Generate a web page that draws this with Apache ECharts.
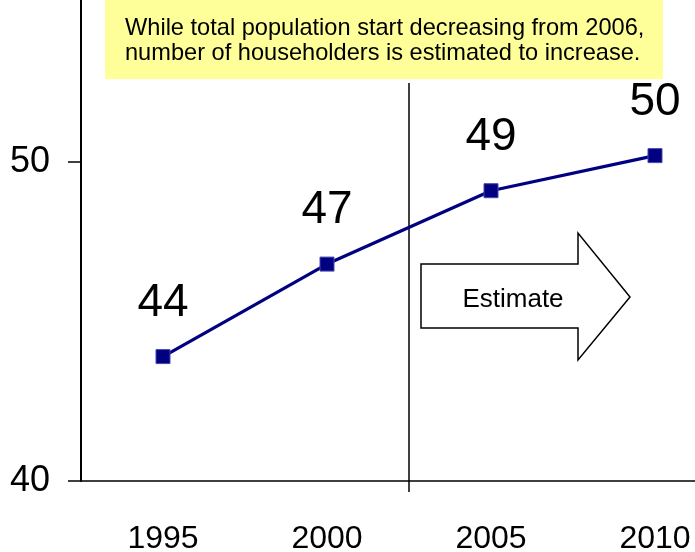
<!DOCTYPE html>
<html>
<head>
<meta charset="utf-8">
<title>Number of householders</title>
<script src="https://cdn.jsdelivr.net/npm/echarts@6/dist/echarts.min.js"></script>
<style>
  html, body { margin: 0; padding: 0; background: #ffffff; }
  #chart { width: 695px; height: 552px; }
</style>
</head>
<body>
<div id="chart"></div>
<script>
// Survey years on the category axis
const years = ['1995', '2000', '2005', '2010'];
// Number of householders (millions); 2010 is a projection
const householders = [43.9, 46.8, 49.1, 50.2];
// Value axis range and step
const yMin = 40;
const yMax = 60;
const yStep = 10;
// Annotation texts
const noteLines = [
  'While total population start decreasing from 2006,',
  'number of householders is estimated to increase.'
];
const estimateText = 'Estimate';
// Index of the first estimated year; a divider is drawn at its left edge
const firstEstimateIndex = 2;

const FONT = '"Liberation Sans", Arial, sans-serif';
const chart = echarts.init(document.getElementById('chart'), null, { renderer: 'canvas' });

const baseGraphic = [
  // note box
  { id: 'noteBox', type: 'rect', shape: { x: 105, y: 0, width: 558, height: 79 }, style: { fill: '#ffff99' }, z: 21 },
  {
    id: 'noteText', type: 'text', x: 125, y: 16, z: 22,
    style: {
      text: noteLines.join('\n'),
      fill: '#000000',
      font: '23.6px ' + FONT,
      lineHeight: 25,
      textAlign: 'left',
      textVerticalAlign: 'top'
    }
  },
  // block arrow pointing towards the estimated years
  {
    id: 'arrow', type: 'polygon', z: 10,
    shape: { points: [[421, 264], [578, 264], [578, 233], [630, 297], [578, 360], [578, 328], [421, 328]] },
    style: { fill: '#ffffff', stroke: '#000000', lineWidth: 1.5 }
  },
  {
    id: 'arrowText', type: 'text', x: 513, y: 300, z: 11,
    style: {
      text: estimateText,
      fill: '#000000',
      font: '26px ' + FONT,
      textAlign: 'center',
      textVerticalAlign: 'middle'
    }
  }
];

chart.setOption({
  backgroundColor: '#ffffff',
  animation: false,
  grid: { left: 81, right: -42, top: -157, bottom: 71, containLabel: false, outerBoundsMode: 'none' },
  xAxis: {
    type: 'category',
    data: years,
    boundaryGap: true,
    axisLine: { show: true, lineStyle: { color: '#000000', width: 1.5 } },
    axisTick: { show: false },
    splitLine: { show: false },
    axisLabel: {
      color: '#000000',
      fontFamily: FONT,
      fontSize: 32,
      margin: 42
    }
  },
  yAxis: {
    type: 'value',
    min: yMin,
    max: yMax,
    interval: yStep,
    axisLine: { show: true, lineStyle: { color: '#000000', width: 2 } },
    axisTick: { show: true, length: 13, lineStyle: { color: '#000000', width: 1.5 } },
    splitLine: { show: false },
    axisLabel: {
      color: '#000000',
      fontFamily: FONT,
      fontSize: 36,
      margin: 31
    }
  },
  series: [{
    type: 'line',
    data: householders,
    symbol: 'rect',
    symbolSize: 14,
    clip: false,
    lineStyle: { color: '#000080', width: 3.2 },
    itemStyle: { color: '#000080', borderColor: '#4848b0', borderWidth: 1 },
    label: {
      show: true,
      position: 'top',
      distance: 23,
      color: '#000000',
      fontFamily: FONT,
      fontSize: 46,
      formatter: function (p) { return String(Math.round(p.value)); }
    },
    z: 5
  }],
  graphic: baseGraphic
});

// Divider between observed and estimated years, placed at the category boundary
const xPrev = chart.convertToPixel({ xAxisIndex: 0 }, firstEstimateIndex - 1);
const xNext = chart.convertToPixel({ xAxisIndex: 0 }, firstEstimateIndex);
const dividerX = (xPrev + xNext) / 2;
const axisY = chart.convertToPixel({ yAxisIndex: 0 }, yMin);
chart.setOption({
  graphic: baseGraphic.concat([{
    id: 'divider', type: 'line', z: 4,
    shape: { x1: dividerX, y1: 83, x2: dividerX, y2: axisY + 11 },
    style: { stroke: '#000000', lineWidth: 1.5 }
  }])
});
</script>
</body>
</html>
